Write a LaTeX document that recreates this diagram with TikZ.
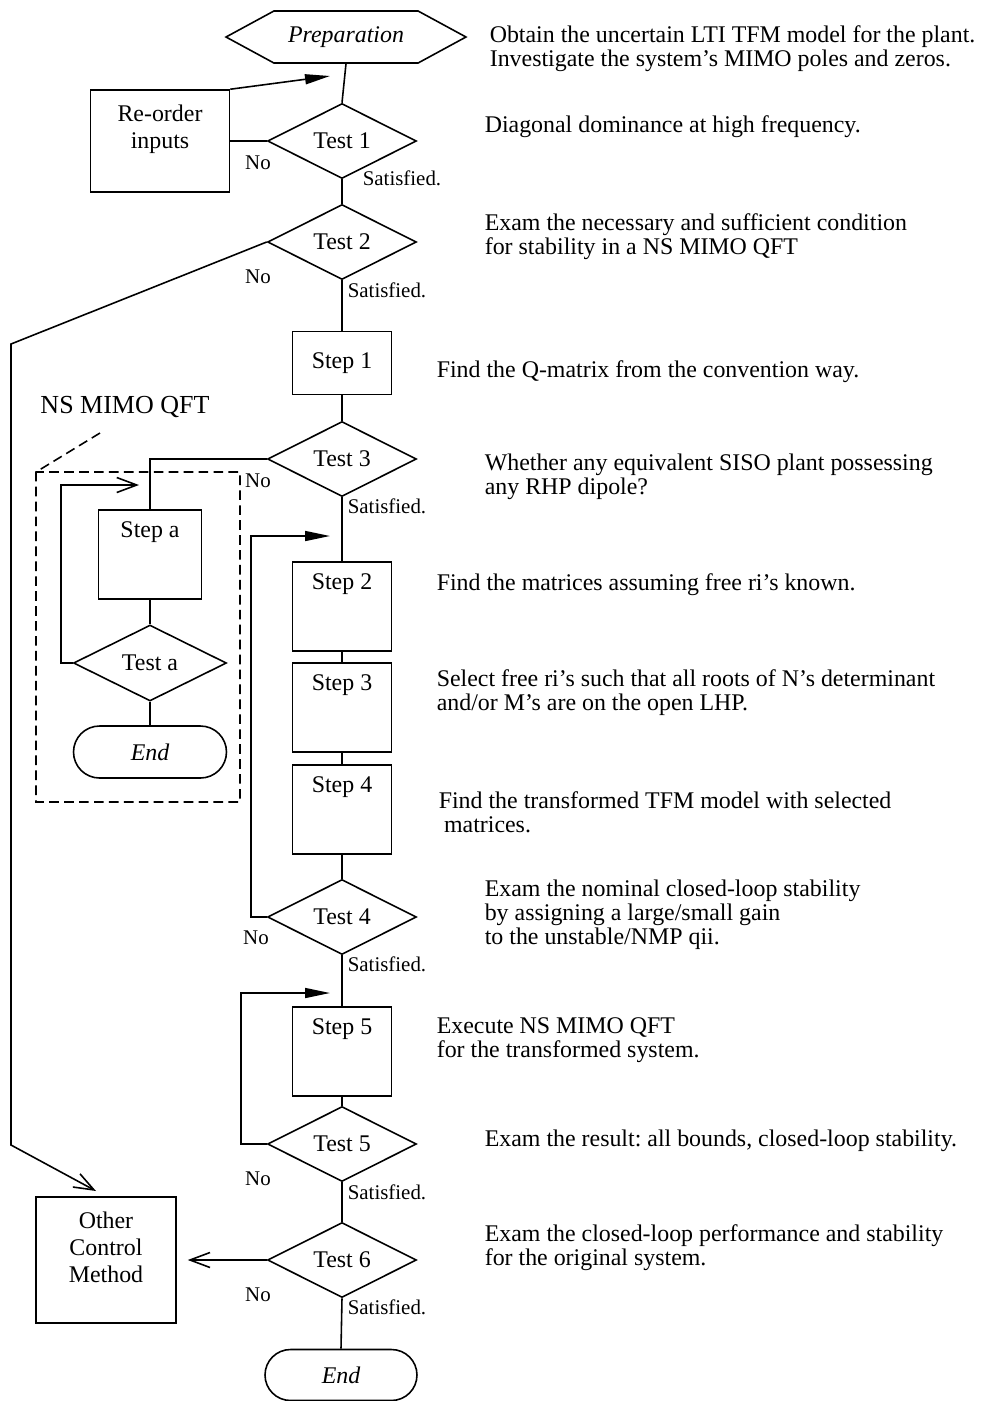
\documentclass[tikz,border=0pt]{standalone}
\usepackage{fontspec}
\setmainfont{Liberation Serif}
\usetikzlibrary{shapes.geometric, shapes.symbols, shapes.misc, arrows.meta, positioning}
\frenchspacing

\begin{document}
\begin{tikzpicture}[x=0.02cm, y=-0.02cm, line width=0.9pt,
  font=\fontsize{13.6}{13.6}\selectfont,
  box/.style={draw, rectangle, inner sep=0, minimum width=1.98cm},
  boxtext/.style={inner sep=0, align=center, anchor=north, yshift=-0.3cm, font=\fontsize{13.6}{15.3}\selectfont},
  stepbox/.style={box, anchor=north, text height=0.55cm, text depth=1.23cm},
  decision/.style={draw, diamond, inner sep=0, minimum width=2.98cm, minimum height=1.5cm},
  term/.style={draw, rounded rectangle, inner sep=0, minimum width=3.06cm, minimum height=1.04cm, font=\fontsize{13.6}{13.6}\selectfont\itshape},
  note/.style={anchor=west, align=left, inner sep=0},
  lbl/.style={inner sep=0, font=\fontsize{11.9}{13}\selectfont},
  ok/.style={lbl, anchor=west},
  frame/.style={dash pattern=on 5.5pt off 3pt},
  solidtip/.style={-{Triangle[length=5mm,width=2mm]}},
  barb/.style={-{Straight Barb[length=4mm,width=3mm]}}]
\useasboundingbox (0,0) rectangle (999,1401);

\node[draw, signal, signal to=west and east, signal pointer angle=57, minimum width=4.8cm, minimum height=1.04cm, inner sep=0, font=\fontsize{13.6}{13.6}\selectfont\itshape] (prep) at (346,37) {Preparation};
\node[box, minimum width=2.78cm, minimum height=2.04cm, label={[boxtext]north:Re-order\\inputs}] (reorder) at (160,141) {};
\node[decision] (t1) at (342,141) {Test 1};
\node[decision] (t2) at (342,242) {Test 2};
\node[box, minimum height=1.26cm] (s1) at (342,363) {Step 1};
\node[decision] (t3) at (342,459) {Test 3};
\node[stepbox] (s2) at (342,561) {Step 2};
\node[stepbox] (s3) at (342,662) {Step 3};
\node[stepbox] (s4) at (342,764) {Step 4};
\node[decision] (t4) at (342,917) {Test 4};
\node[stepbox] (s5) at (342,1006) {Step 5};
\node[decision] (t5) at (342,1144) {Test 5};
\node[decision] (t6) at (342,1260) {Test 6};
\node[term, minimum width=3.04cm, minimum height=1.02cm] (endb) at (341,1375) {End};

\node[font=\fontsize{14.8}{16}\selectfont] (nslbl) at (125,407) {NS MIMO QFT};
\node[stepbox, minimum width=2.06cm] (stepa) at (150,509) {Step a};
\node[decision, minimum width=3.06cm, minimum height=1.52cm] (testa) at (150,663) {Test a};
\node[term] (enda) at (150,752) {End};
\node[box, minimum width=2.8cm, minimum height=2.52cm, label={[boxtext]north:Other\\Control\\Method}] (other) at (106,1260) {};

\node[lbl] (no1) at (258,163) {No};
\node[lbl] (no2) at (258,277) {No};
\node[lbl] (no3) at (258,481) {No};
\node[lbl] (no4) at (256,938) {No};
\node[lbl] (no5) at (258,1179) {No};
\node[lbl] (no6) at (258,1295) {No};
\node[ok] (ok1) at (362,178) {Satisfied.};
\node[ok] (ok2) at (347,290) {Satisfied.};
\node[ok] (ok3) at (347,506) {Satisfied.};
\node[ok] (ok4) at (347,964) {Satisfied.};
\node[ok] (ok5) at (347,1192) {Satisfied.};
\node[ok] (ok6) at (347,1307) {Satisfied.};

\node[note] (n1) at (489,49) {Obtain the uncertain LTI TFM model for the plant.\\Investigate the system's MIMO poles and zeros.};
\node[note] (n2) at (484,127) {Diagonal dominance at high frequency.};
\node[note] (n3) at (484,237) {Exam the necessary and sufficient condition\\for stability in a NS MIMO QFT};
\node[note] (n4) at (436,372) {Find the Q-matrix from the convention way.};
\node[note] (n5) at (484,477) {Whether any equivalent SISO plant possessing\\any RHP dipole?};
\node[note] (n6) at (436,585) {Find the matrices assuming free ri's known.};
\node[note] (n7) at (436,693) {Select free ri's such that all roots of N's determinant\\and/or M's are on the open LHP.};
\node[note] (n8) at (438,812) {Find the transformed TFM model with selected\\\hspace*{3pt}matrices.};
\node[note] (n9) at (484,915) {Exam the nominal closed-loop stability\\by assigning a large/small gain\\to the unstable/NMP qii.};
\node[note] (n10) at (436,1040) {Execute NS MIMO QFT\\for the transformed system.};
\node[note] (n11) at (484,1141) {Exam the result: all bounds, closed-loop stability.};
\node[note] (n12) at (484,1248) {Exam the closed-loop performance and stability\\for the original system.};

\coordinate (tipA) at (330,76);
\coordinate (tipB) at (96,1191);
\coordinate (tipC) at (139,485);
\coordinate (tipD) at (330,536);
\coordinate (tipE) at (330,993);

\draw (prep.south) -- (t1.north);
\draw[solidtip] (reorder.north east) -- (tipA);
\draw (t1.west) -- (reorder.east);
\draw (t1.south) -- (t2.north);
\draw[barb] (t2.west) -- (11,344) -- (11,1145) -- (tipB);
\draw (t2.south) -- (s1.north);
\draw (s1.south) -- (t3.north);
\draw (t3.west) -| (stepa.north);
\draw (stepa.south) -- (testa.north);
\draw[barb] (testa.west) -- ++(-12,0) |- (tipC);
\draw (testa.south) -- (enda.north);
\draw (t3.south) -- (s2.north);
\draw (s2.south) -- (s3.north);
\draw (s3.south) -- (s4.north);
\draw (s4.south) -- (t4.north);
\draw[solidtip] (t4.west) -- ++(-16,0) |- (tipD);
\draw (t4.south) -- (s5.north);
\draw (s5.south) -- (t5.north);
\draw[solidtip] (t5.west) -- ++(-26,0) |- (tipE);
\draw (t5.south) -- (t6.north);
\draw[barb] (t6.west) -- ([xshift=0.22cm]other.east);
\draw (t6.south) -- (endb.north);
\draw[frame] (100,433) -- (36,472) -- (36,802) -- (240,802) -- (240,472) -- (36,472);
\end{tikzpicture}
\end{document}
